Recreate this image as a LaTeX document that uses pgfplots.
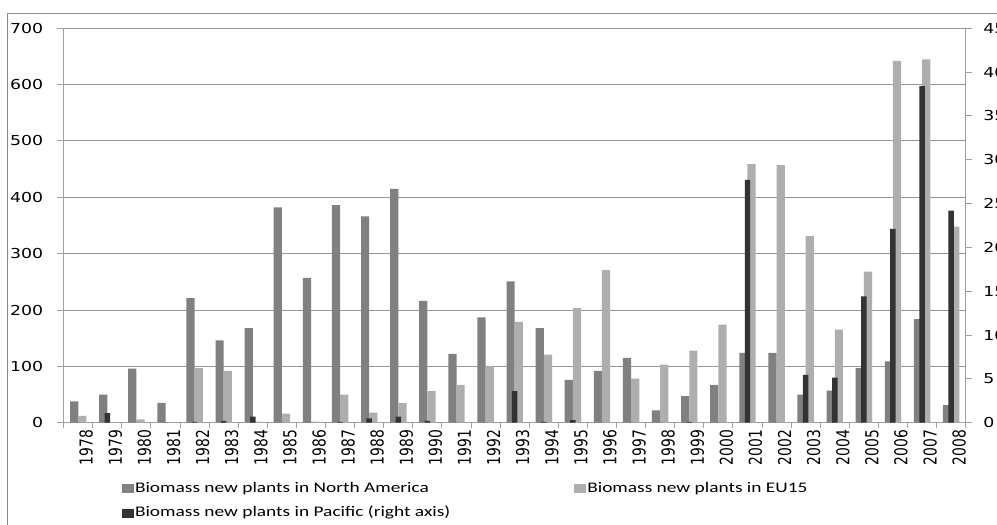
\documentclass[border=0pt]{standalone}
\usepackage{fontspec}
\setmainfont{Carlito}
\newfontfamily\tickfont[FakeStretch=1.26]{DejaVu Sans}
\newfontfamily\yearfont[FakeStretch=0.78]{DejaVu Sans}
\newfontfamily\legfont[FakeStretch=1.32]{Carlito}
\usepackage{pgfplots}
\pgfplotsset{compat=1.18}
\definecolor{na}{HTML}{808080}
\definecolor{eu}{HTML}{AEAEAE}
\definecolor{pac}{HTML}{333333}
\definecolor{gridc}{HTML}{969696}
\definecolor{framec}{HTML}{8C8C8C}
\definecolor{axc}{HTML}{A0A0A0}
\pgfplotsset{swatch/.style={legend image code/.code={\fill[##1] (0pt,-3.4pt) rectangle (8.7pt,3.4pt);}}}
\begin{document}
\begin{tikzpicture}
\useasboundingbox (0,0) rectangle (747.75pt,393.75pt);
\clip (0,0) rectangle (747.75pt,393.75pt);
\fill[white] (0,0) rectangle (747.75pt,393.75pt);
\draw[framec, line width=0.75pt] (5.8pt,-5pt) -- (5.8pt,383.8pt) -- (760pt,383.8pt);
\begin{axis}[
  at={(47.78pt,76.73pt)}, anchor=south west,
  scale only axis, width=676.5pt, height=295.8pt,
  xmin=-0.5, xmax=30.5, ymin=0, ymax=700,
  ybar=0pt, bar width=6.15pt,
  axis y line*=left, axis x line*=bottom,
  axis line style={axc, line width=0.75pt},
  ytick={0,100,...,700},
  ymajorgrids, grid style={gridc, line width=0.75pt},
  xtick={0,...,30},
  xticklabels={1978,1979,1980,1981,1982,1983,1984,1985,1986,1987,1988,1989,1990,1991,1992,1993,1994,1995,1996,1997,1998,1999,2000,2001,2002,2003,2004,2005,2006,2007,2008},
  major x tick style={draw=none},
  minor xtick={-0.5,0.5,...,30.5},
  minor tick length=3.75pt, major tick length=5.25pt,
  tick align=outside,
  tick style={axc, line width=0.75pt},
  xticklabel style={font=\yearfont\fontsize{13.35pt}{14pt}\selectfont, rotate=90, anchor=east, inner sep=0pt, yshift=-6pt},
  yticklabel style={font=\tickfont\fontsize{10.3pt}{12pt}\selectfont, anchor=east, inner sep=0pt, xshift=-10pt},
  /pgf/number format/assume math mode=true,
]
\addplot[fill=na, draw=none] coordinates {
(0,38) (1,50) (2,96) (3,35) (4,221) (5,146) (6,168) (7,382) (8,257) (9,386)
(10,366) (11,415) (12,216) (13,122) (14,187) (15,251) (16,168) (17,76) (18,92) (19,115)
(20,22) (21,47) (22,67) (23,124) (24,124) (25,50) (26,57) (27,97) (28,109) (29,184) (30,31)};
\addplot[fill=eu, draw=none] coordinates {
(0,12) (1,0) (2,6) (3,0) (4,97) (5,92) (6,2) (7,16) (8,2) (9,50)
(10,18) (11,35) (12,56) (13,67) (14,101) (15,179) (16,121) (17,204) (18,271) (19,78)
(20,103) (21,128) (22,174) (23,459) (24,457) (25,331) (26,165) (27,268) (28,642) (29,645) (30,348)};
\end{axis}
\begin{axis}[
  at={(47.78pt,76.73pt)}, anchor=south west,
  scale only axis, width=676.5pt, height=295.8pt,
  xmin=-0.5, xmax=30.5, ymin=0, ymax=45,
  ybar=0pt, bar width=4.1pt,
  axis y line*=right, axis x line=none,
  axis line style={axc, line width=0.75pt},
  ytick={0,5,...,45},
  major tick length=5pt, tick align=outside,
  tick style={axc, line width=0.75pt},
  yticklabel style={font=\tickfont\fontsize{10.3pt}{12pt}\selectfont, anchor=west, inner sep=0pt, xshift=8pt},
  /pgf/number format/assume math mode=true,
  legend columns=2,
  legend cell align=left,
  legend style={at={(0.060,-0.138)}, anchor=north west, draw=none, fill=none,
    font=\legfont\fontsize{11pt}{13pt}\selectfont,
    nodes={inner sep=1pt, text height=8pt, text depth=2.5pt},
    row sep=6pt,
    /tikz/every even column/.append style={column sep=92pt}},
]
\addlegendimage{fill=na, draw=none, swatch}
\addlegendentry{Biomass new plants in North America}
\addlegendimage{fill=eu, draw=none, swatch}
\addlegendentry{Biomass new plants in EU15}
\addplot[fill=pac, draw=none, bar shift=0pt, swatch] coordinates {
(0,0) (1,1.1) (2,0) (3,0) (4,0.1) (5,0.2) (6,0.7) (7,0) (8,0) (9,0.1)
(10,0.5) (11,0.7) (12,0.2) (13,0) (14,0) (15,3.6) (16,0.1) (17,0.3) (18,0) (19,0)
(20,0) (21,0.1) (22,0) (23,27.7) (24,0) (25,5.45) (26,5.15) (27,14.4) (28,22.1) (29,38.4) (30,24.2)};
\addlegendentry{Biomass new plants in Pacific (right axis)}
\end{axis}
\end{tikzpicture}
\end{document}
